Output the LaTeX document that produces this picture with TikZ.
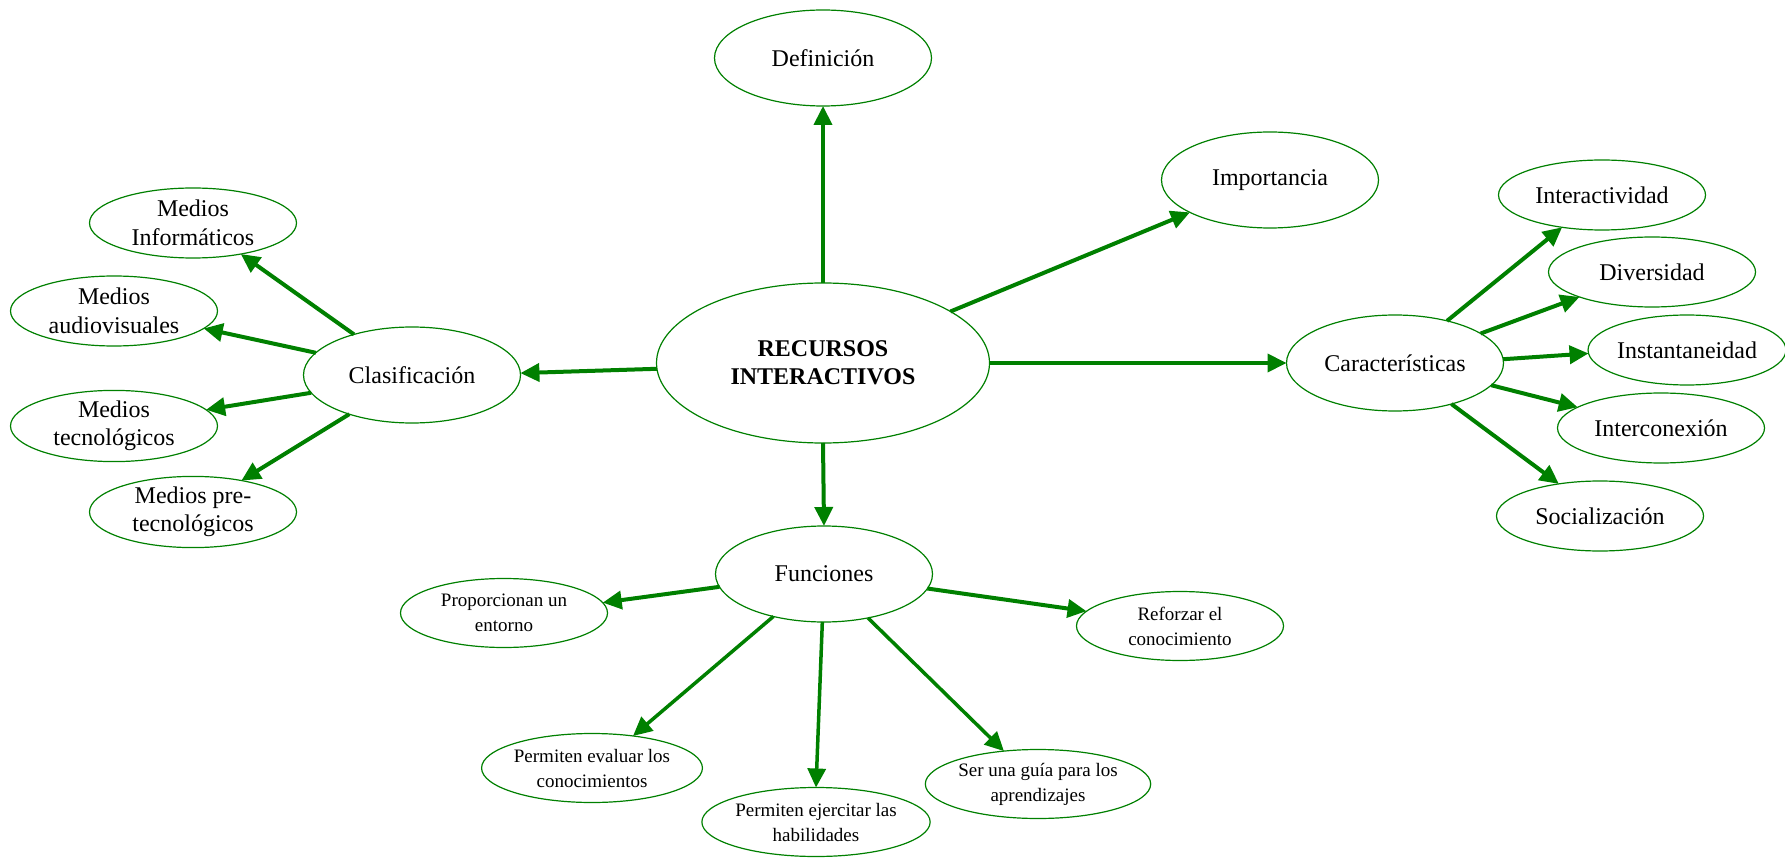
\documentclass[tikz,border=0pt]{standalone}
\usepackage{fontspec}
\setmainfont{Liberation Serif}
\usetikzlibrary{arrows.meta,shapes.geometric}
\definecolor{lineg}{RGB}{0,128,0}
\begin{document}
\begin{tikzpicture}[x=1pt,y=-1pt,
  bub/.style={ellipse,draw=lineg,line width=1.2pt,fill=white,inner sep=0pt,outer sep=0pt,align=center,font=\fontsize{24}{28.5}\selectfont},
  big/.style={bub,minimum width=217pt,minimum height=96pt},
  med/.style={bub,minimum width=207pt,minimum height=70pt},
  sml/.style={bub,minimum width=207pt,minimum height=69pt,font=\fontsize{19}{25}\selectfont},
  arr/.style={draw=lineg,line width=4pt,-{Triangle[length=19pt,width=18pt]}},
  arrt/.style={arr,line width=3.5pt},
]
\useasboundingbox (0,0) rectangle (1785,858);
% central and main nodes
\node[bub,minimum width=333pt,minimum height=160pt,font=\bfseries\fontsize{24}{28}\selectfont] (c) at (823,363) {RECURSOS\\INTERACTIVOS};
\node[big] (def) at (823,58) {Definición};
\node[big] (imp) at (1270,180) {Importancia};
\node[big] (cla) at (412,375) {Clasificación};
\node[big] (car) at (1395,363) {Características};
\node[big] (fun) at (824,574) {Funciones};
% left
\node[med] (mi) at (193,223) {Medios\\Informáticos};
\node[med] (ma) at (114,311) {Medios\\audiovisuales};
\node[med] (mt) at (114,426) {Medios\\tecnológicos};
\node[med] (mp) at (193,512) {Medios pre-\\tecnológicos};
% right
\node[med] (ia) at (1602,195) {Interactividad};
\node[med] (di) at (1652,272) {Diversidad};
\node[med,minimum width=195pt] (in) at (1687,350) {Instantaneidad};
\node[med] (ic) at (1661,428) {Interconexión};
\node[med] (so) at (1600,516) {Socialización};
% bottom
\node[sml] (pr) at (504,613) {Proporcionan un\\entorno};
\node[sml] (re) at (1180,626) {Reforzar el\\conocimiento};
\node[sml] (ev) at (592,768) {Permiten evaluar los\\conocimientos};
\node[sml] (ej) at (816,822) {Permiten ejercitar las\\habilidades};
\node[sml] (gu) at (1038,784) {Ser una guía para los\\aprendizajes};
% connectors from center
\draw[arr] (c.90) -- (def.270);
\draw[arr] (c.22.5) -- (imp.202);
\draw[arr] (c.182) -- (cla.1.5);
\draw[arr] (c.0) -- (car.180);
\draw[arr] (c.270) -- (fun.90);
% Clasificacion
\draw[arr] (cla.145) -- (mi.-33);
\draw[arr] (cla.167) -- (ma.-11);
\draw[arr] (cla.190) -- (mt.10);
\draw[arr] (cla.212) -- (mp.33);
% Caracteristicas
\draw[arr] (car.39) -- (ia.219.5);
\draw[arr] (car.19.7) -- (di.199.7);
\draw[arr] (car.2.7) -- (in.182.3);
\draw[arr] (car.-13.7) -- (ic.166.6);
\draw[arr] (car.-36.7) -- (so.142.5);
% Funciones
\draw[arr] (fun.187.5) -- (pr.6.3);
\draw[arr] (fun.-8.2) -- (re.171.5);
\draw[arrt] (fun.220) -- (ev.38.8);
\draw[arrt] (fun.268) -- (ej.90);
\draw[arrt] (fun.-45) -- (gu.136.6);
\end{tikzpicture}
\end{document}
